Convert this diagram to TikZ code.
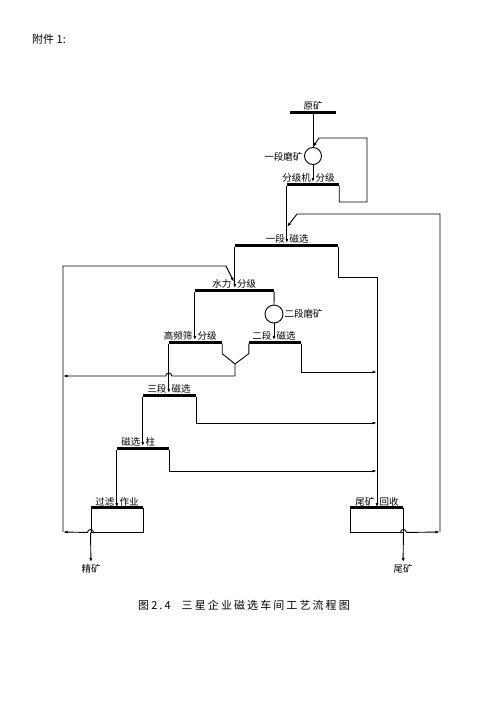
\documentclass[tikz,border=0pt]{standalone}
\usepackage{fontspec}
\usetikzlibrary{arrows.meta,calc}
\newfontfamily\cjk{Noto Sans CJK SC}
\newfontfamily\cjkwide[LetterSpace=19]{Noto Sans CJK SC}
\tikzset{bar/.style={fill=black, inner sep=0pt, minimum height=3pt}}
\tikzset{mill/.style={draw, circle, line width=0.9pt, inner sep=0pt, minimum size=17pt}}
\tikzset{box/.style={draw, line width=0.9pt, inner sep=0pt, minimum height=24pt}}
\tikzset{line/.style={line width=0.9pt}}
\tikzset{flow/.style={line width=0.9pt, -{Latex[length=4.5pt, width=3pt]}}}
\tikzset{lbl/.style={font=\cjk\fontsize{9.5}{11}\selectfont, inner sep=0.5pt}}

\begin{document}
\begin{tikzpicture}[x=1pt, y=-1pt]
        \useasboundingbox[fill=white] (0,0) rectangle (500,707);

        \node[anchor=west, inner sep=0pt, font=\cjk\fontsize{11}{13}\selectfont] (hdr) at (32,39) {附件 1:};

        \node[bar, minimum width=46pt] (ysk) at (313,112) {};
        \node[mill] (mk1) at (313,156) {};
        \node[bar, minimum width=52pt] (fjj) at (313,184) {};
        \node[bar, minimum width=103pt] (cx1) at (286.5,245) {};
        \node[bar, minimum width=79pt] (slfj) at (234.5,290) {};
        \node[mill, minimum size=18pt] (mk2) at (274,314) {};
        \node[bar, minimum width=53pt] (gps) at (195.5,342) {};
        \node[bar, minimum width=52pt] (cx2) at (275,342) {};
        \node[bar, minimum width=53pt] (cx3) at (169.5,395) {};
        \node[bar, minimum width=52pt] (cxz) at (143,448) {};
        \node[box, minimum width=52pt] (glzy) at (117,520) {};
        \node[box, minimum width=53pt] (wkhs) at (376.5,520) {};
        \draw[line width=3pt] (glzy.north west) -- (glzy.north east);
        \draw[line width=3pt] (wkhs.north west) -- (wkhs.north east);

        \node[lbl, anchor=base] (lysk) at (313,109) {原矿};
        \node[lbl, anchor=east] (lmk1) at (303,157) {一段磨矿};
        \node[lbl, anchor=base east] (lfjja) at (311.5,181) {分级机};
        \node[lbl, anchor=base west] (lfjjb) at (315,181) {分级};
        \node[lbl, anchor=base east] (lcx1a) at (285.5,242) {一段};
        \node[lbl, anchor=base west] (lcx1b) at (289,242) {磁选};
        \node[lbl, anchor=base east] (lslfja) at (232,287) {水力};
        \node[lbl, anchor=base west] (lslfjb) at (236.5,287) {分级};
        \node[lbl, anchor=west] (lmk2) at (284,314) {二段磨矿};
        \node[lbl, anchor=base east] (lgpsa) at (193,339) {高频筛};
        \node[lbl, anchor=base west] (lgpsb) at (197,339) {分级};
        \node[lbl, anchor=base east] (lcx2a) at (272,339) {二段};
        \node[lbl, anchor=base west] (lcx2b) at (276,339) {磁选};
        \node[lbl, anchor=base east] (lcx3a) at (167,392) {三段};
        \node[lbl, anchor=base west] (lcx3b) at (171,392) {磁选};
        \node[lbl, anchor=base east] (lcxza) at (141,445) {磁选};
        \node[lbl, anchor=base west] (lcxzb) at (145,445) {柱};
        \node[lbl, anchor=base east] (lglzya) at (115,505) {过滤};
        \node[lbl, anchor=base west] (lglzyb) at (119,505) {作业};
        \node[lbl, anchor=base east] (lwkhsa) at (375,505) {尾矿};
        \node[lbl, anchor=base west] (lwkhsb) at (379,505) {回收};
        \node[lbl, inner sep=2pt] (ljk) at (91,569) {精矿};
        \node[lbl, inner sep=2pt] (lwk) at (403,569) {尾矿};

        \coordinate (fr1) at (367,202);
        \coordinate (fr2) at (319,138);
        \coordinate (rbot) at (440,532);
        \coordinate (rtop) at (440,214);
        \coordinate (rj) at (297,214);
        \coordinate (rj2) at (287,227);
        \coordinate (lbot) at (63,532);
        \coordinate (ltop) at (63,266);
        \coordinate (lj) at (226,266);
        \coordinate (lj2) at (234,282);
        \coordinate (vj) at (235,364);
        \coordinate (lmid) at (63,376);
        \coordinate (t1) at (377,277);
        \coordinate (t2) at (377,372);
        \coordinate (t3) at (377,423);
        \coordinate (t4) at (377,471);

        \draw [line] (ysk.south) -- (mk1.north);
        \draw [flow] (mk1.south) -- (mk1.south |- fjj.north);
        \draw [flow] (fjj.south east) |- (fr1) -- (fr1 |- fr2) -- (fr2) -- (mk1.north);
        \draw [flow] (fjj.south west) -- (fjj.south west |- cx1.north);
        \draw [line] (wkhs.south east) ++(-3,0) arc[start angle=180, end angle=360, radius=3];
        \draw [flow] ($(wkhs.south east)+(3,0)$) -- (rbot);
        \draw [flow] (rbot) -- (rtop) -- (rj) -- (rj2);
        \draw [flow] (cx1.south east) |- (t1) -- (t1 |- wkhs.north);
        \draw [flow] (cx1.south west) -- (cx1.south west |- slfj.north);
        \draw [flow] ($(glzy.south west)+(3,0)$) arc[start angle=0, end angle=-180, radius=3] -- (lbot);
        \draw [flow] (lbot) -- (ltop) -- (lj) -- (lj2);
        \draw [line] (slfj.south east) -- (mk2.north);
        \draw [flow] (mk2.south) -- (mk2.south |- cx2.north);
        \draw [flow] (slfj.south west) -- (slfj.south west |- gps.north);
        \draw [line] (gps.south east) -- ++(0,10) -- (vj);
        \draw [line] (cx2.south west) -- ++(0,10) -- (vj);
        \draw [flow] (vj) -- (vj |- lmid) -- ($(gps.south west |- lmid)+(3,0)$) arc[start angle=0, end angle=-180, radius=3] -- (lmid);
        \draw [flow] (cx2.south east) |- (t2);
        \draw [flow] (gps.south west) -- (gps.south west |- cx3.north);
        \draw [flow] (cx3.south east) |- (t3);
        \draw [flow] (cx3.south west) -- (cx3.south west |- cxz.north);
        \draw [flow] (cxz.south east) |- (t4);
        \draw [flow] (cxz.south west) -- (cxz.south west |- glzy.north);
        \draw [flow] (glzy.south west) -- (ljk);
        \draw [flow] (wkhs.south east) -- (lwk);

        \node[anchor=west, inner sep=0pt, font=\cjkwide\fontsize{11}{13}\selectfont] (cap) at (138,605) {图2.4\quad 三星企业磁选车间工艺流程图};
    \end{tikzpicture}
\end{document}
